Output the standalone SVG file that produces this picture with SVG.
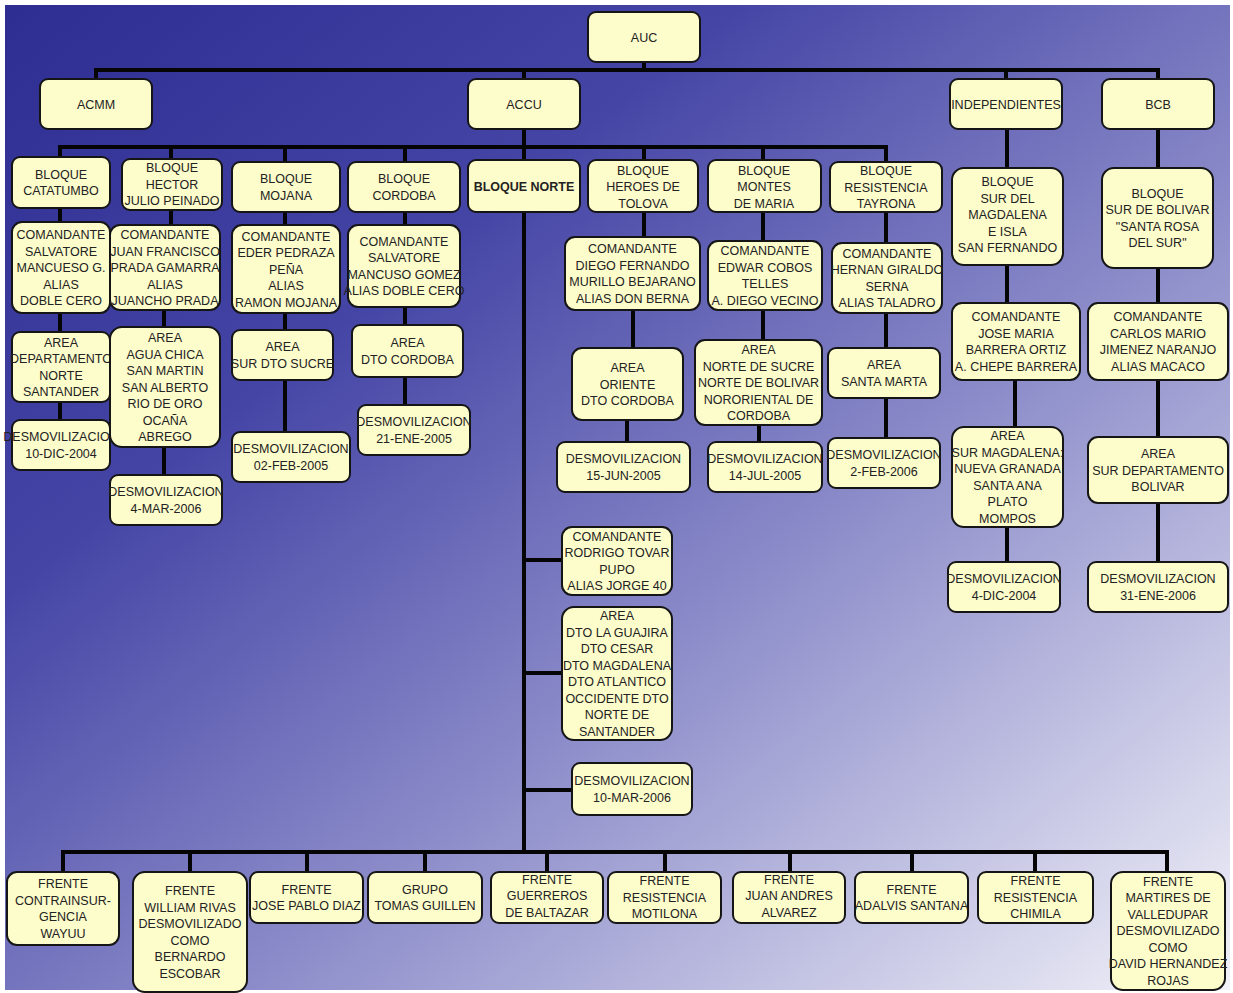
<svg xmlns="http://www.w3.org/2000/svg" width="1233" height="993" viewBox="0 0 1233 993">
<defs>
<linearGradient id="bg" x1="0" y1="0" x2="1" y2="1">
<stop offset="0" stop-color="#2d2d92"/>
<stop offset="0.3" stop-color="#4545a6"/>
<stop offset="0.6" stop-color="#8c8cca"/>
<stop offset="1" stop-color="#f2f2f9"/>
</linearGradient>
<style>
.b{fill:#fdfccb;stroke:#151515;stroke-width:2}
.t{font-family:"Liberation Sans",Arial,sans-serif;font-size:12.5px;fill:#222222;text-anchor:middle}
.bold{font-weight:bold}
.c{fill:none;stroke:#050505;stroke-width:4;stroke-linecap:square}
</style>
</defs>
<rect x="0" y="0" width="1233" height="993" fill="#ffffff"/>
<rect x="5" y="5" width="1225" height="985" fill="url(#bg)"/>
<g id="connectors" class="c">
<path d="M644 62V70"/>
<path d="M96 79V70H1158V79"/>
<path d="M524 70V79"/>
<path d="M1006 70V79"/>
<path d="M524 129V852"/>
<path d="M60 157V147H886V162"/>
<path d="M60 147V420"/>
<path d="M171 147V225"/>
<path d="M164 310V475"/>
<path d="M285 147V432"/>
<path d="M405 147V405"/>
<path d="M644 147V237"/>
<path d="M633 310V348"/>
<path d="M627 420V442"/>
<path d="M763 147V340"/>
<path d="M759 425V442"/>
<path d="M886 147V438"/>
<path d="M1007 129V303"/>
<path d="M1015 380V427"/>
<path d="M1007 527V562"/>
<path d="M1158 129V562"/>
<path d="M524 560H562"/>
<path d="M524 673H562"/>
<path d="M524 790H572"/>
<path d="M63 872V852H1167V872"/>
<path d="M190 852V872"/>
<path d="M307 852V872"/>
<path d="M425 852V872"/>
<path d="M547 852V872"/>
<path d="M665 852V872"/>
<path d="M790 852V872"/>
<path d="M912 852V872"/>
<path d="M1035 852V872"/>
</g>
<g id="auc"><rect class="b" x="588" y="12" width="112" height="50" rx="8"/><text class="t" x="644" y="41.5">AUC</text></g>
<g id="acmm"><rect class="b" x="40" y="79" width="112" height="50" rx="8"/><text class="t" x="96" y="108.5">ACMM</text></g>
<g id="accu"><rect class="b" x="468" y="79" width="112" height="50" rx="8"/><text class="t" x="524" y="108.5">ACCU</text></g>
<g id="independientes"><rect class="b" x="950" y="79" width="112" height="50" rx="8"/><text class="t" x="1006" y="108.5">INDEPENDIENTES</text></g>
<g id="bcb"><rect class="b" x="1102" y="79" width="112" height="50" rx="8"/><text class="t" x="1158" y="108.5">BCB</text></g>

<g id="bloque-catatumbo"><rect class="b" x="12" y="157" width="98" height="51" rx="8"/><text class="t" x="61"><tspan x="61" y="178.75">BLOQUE</tspan><tspan x="61" y="195.25">CATATUMBO</tspan></text></g>
<g id="bloque-hector"><rect class="b" x="122" y="159" width="100" height="51" rx="8"/><text class="t"><tspan x="172" y="172">BLOQUE</tspan><tspan x="172" y="188.5">HECTOR</tspan><tspan x="172" y="205">JULIO PEINADO</tspan></text></g>
<g id="bloque-mojana"><rect class="b" x="232" y="162" width="108" height="50" rx="8"/><text class="t"><tspan x="286" y="183.25">BLOQUE</tspan><tspan x="286" y="199.75">MOJANA</tspan></text></g>
<g id="bloque-cordoba"><rect class="b" x="348" y="162" width="112" height="50" rx="8"/><text class="t"><tspan x="404" y="183.25">BLOQUE</tspan><tspan x="404" y="199.75">CORDOBA</tspan></text></g>
<g id="bloque-norte"><rect class="b" x="468" y="160" width="112" height="52" rx="8"/><text class="t bold" x="524" y="190.5">BLOQUE NORTE</text></g>
<g id="bloque-tolova"><rect class="b" x="588" y="160" width="110" height="52" rx="8"/><text class="t"><tspan x="643" y="174.5">BLOQUE</tspan><tspan x="643" y="191">HEROES DE</tspan><tspan x="643" y="207.5">TOLOVA</tspan></text></g>
<g id="bloque-montes"><rect class="b" x="708" y="160" width="113" height="52" rx="8"/><text class="t"><tspan x="764" y="174.5">BLOQUE</tspan><tspan x="764" y="191">MONTES</tspan><tspan x="764" y="207.5">DE MARIA</tspan></text></g>
<g id="bloque-tayrona"><rect class="b" x="830" y="162" width="112" height="50" rx="8"/><text class="t"><tspan x="886" y="175">BLOQUE</tspan><tspan x="886" y="191.5">RESISTENCIA</tspan><tspan x="886" y="208">TAYRONA</tspan></text></g>

<g id="com-salvatore"><rect class="b" x="12" y="222" width="98" height="91" rx="10"/><text class="t"><tspan x="61" y="239">COMANDANTE</tspan><tspan x="61" y="255.5">SALVATORE</tspan><tspan x="61" y="272">MANCUESO G.</tspan><tspan x="61" y="288.5">ALIAS</tspan><tspan x="61" y="305">DOBLE CERO</tspan></text></g>
<g id="area-norte-santander"><rect class="b" x="12" y="332" width="98" height="70" rx="8"/><text class="t"><tspan x="61" y="346.75">AREA</tspan><tspan x="61" y="363.25">DEPARTAMENTO</tspan><tspan x="61" y="379.75">NORTE</tspan><tspan x="61" y="396.25">SANTANDER</tspan></text></g>
<g id="desm-10dic"><rect class="b" x="12" y="420" width="98" height="50" rx="8"/><text class="t"><tspan x="61" y="441.25">DESMOVILIZACION</tspan><tspan x="61" y="457.75">10-DIC-2004</tspan></text></g>

<g id="com-juan"><rect class="b" x="110" y="225" width="110" height="85" rx="10"/><text class="t"><tspan x="165" y="239">COMANDANTE</tspan><tspan x="165" y="255.5">JUAN FRANCISCO</tspan><tspan x="165" y="272">PRADA GAMARRA</tspan><tspan x="165" y="288.5">ALIAS</tspan><tspan x="165" y="305">JUANCHO PRADA</tspan></text></g>
<g id="area-agua-chica"><rect class="b" x="110" y="327" width="110" height="120" rx="12"/><text class="t"><tspan x="165" y="342">AREA</tspan><tspan x="165" y="358.5">AGUA CHICA</tspan><tspan x="165" y="375">SAN MARTIN</tspan><tspan x="165" y="391.5">SAN ALBERTO</tspan><tspan x="165" y="408">RIO DE ORO</tspan><tspan x="165" y="424.5">OCAÑA</tspan><tspan x="165" y="441">ABREGO</tspan></text></g>
<g id="desm-4mar"><rect class="b" x="110" y="475" width="112" height="50" rx="8"/><text class="t"><tspan x="166" y="496.25">DESMOVILIZACION</tspan><tspan x="166" y="512.75">4-MAR-2006</tspan></text></g>

<g id="com-eder"><rect class="b" x="232" y="225" width="108" height="88" rx="10"/><text class="t"><tspan x="286" y="240.5">COMANDANTE</tspan><tspan x="286" y="257">EDER PEDRAZA</tspan><tspan x="286" y="273.5">PEÑA</tspan><tspan x="286" y="290">ALIAS</tspan><tspan x="286" y="306.5">RAMON MOJANA</tspan></text></g>
<g id="area-sur-sucre"><rect class="b" x="232" y="330" width="101" height="50" rx="8"/><text class="t"><tspan x="282.5" y="351.25">AREA</tspan><tspan x="282.5" y="367.75">SUR DTO SUCRE</tspan></text></g>
<g id="desm-02feb"><rect class="b" x="232" y="432" width="118" height="50" rx="8"/><text class="t"><tspan x="291" y="453.25">DESMOVILIZACION</tspan><tspan x="291" y="469.75">02-FEB-2005</tspan></text></g>

<g id="com-mancuso"><rect class="b" x="348" y="225" width="112" height="82" rx="10"/><text class="t"><tspan x="404" y="245.75">COMANDANTE</tspan><tspan x="404" y="262.25">SALVATORE</tspan><tspan x="404" y="278.75">MANCUSO GOMEZ</tspan><tspan x="404" y="295.25">ALIAS DOBLE CERO</tspan></text></g>
<g id="area-dto-cordoba"><rect class="b" x="352" y="325" width="111" height="52" rx="8"/><text class="t"><tspan x="407.5" y="347.25">AREA</tspan><tspan x="407.5" y="363.75">DTO CORDOBA</tspan></text></g>
<g id="desm-21ene"><rect class="b" x="358" y="405" width="112" height="50" rx="8"/><text class="t"><tspan x="414" y="426.25">DESMOVILIZACION</tspan><tspan x="414" y="442.75">21-ENE-2005</tspan></text></g>

<g id="com-rodrigo"><rect class="b" x="562" y="527" width="110" height="68" rx="10"/><text class="t"><tspan x="617" y="540.75">COMANDANTE</tspan><tspan x="617" y="557.25">RODRIGO TOVAR</tspan><tspan x="617" y="573.75">PUPO</tspan><tspan x="617" y="590.25">ALIAS JORGE 40</tspan></text></g>
<g id="area-guajira"><rect class="b" x="562" y="607" width="110" height="133" rx="12"/><text class="t"><tspan x="617" y="620.25">AREA</tspan><tspan x="617" y="636.75">DTO LA GUAJIRA</tspan><tspan x="617" y="653.25">DTO CESAR</tspan><tspan x="617" y="669.75">DTO MAGDALENA</tspan><tspan x="617" y="686.25">DTO ATLANTICO</tspan><tspan x="617" y="702.75">OCCIDENTE DTO</tspan><tspan x="617" y="719.25">NORTE DE</tspan><tspan x="617" y="735.75">SANTANDER</tspan></text></g>
<g id="desm-10mar"><rect class="b" x="572" y="763" width="120" height="52" rx="8"/><text class="t"><tspan x="632" y="785.25">DESMOVILIZACION</tspan><tspan x="632" y="801.75">10-MAR-2006</tspan></text></g>

<g id="com-berna"><rect class="b" x="565" y="237" width="135" height="73" rx="10"/><text class="t"><tspan x="632.5" y="253.25">COMANDANTE</tspan><tspan x="632.5" y="269.75">DIEGO FERNANDO</tspan><tspan x="632.5" y="286.25">MURILLO BEJARANO</tspan><tspan x="632.5" y="302.75">ALIAS DON BERNA</tspan></text></g>
<g id="area-oriente"><rect class="b" x="572" y="348" width="111" height="72" rx="10"/><text class="t"><tspan x="627.5" y="372">AREA</tspan><tspan x="627.5" y="388.5">ORIENTE</tspan><tspan x="627.5" y="405">DTO CORDOBA</tspan></text></g>
<g id="desm-15jun"><rect class="b" x="557" y="442" width="133" height="50" rx="8"/><text class="t"><tspan x="623.5" y="463.25">DESMOVILIZACION</tspan><tspan x="623.5" y="479.75">15-JUN-2005</tspan></text></g>

<g id="com-edwar"><rect class="b" x="708" y="241" width="114" height="69" rx="10"/><text class="t"><tspan x="765" y="255.25">COMANDANTE</tspan><tspan x="765" y="271.75">EDWAR COBOS</tspan><tspan x="765" y="288.25">TELLES</tspan><tspan x="765" y="304.75">A.  DIEGO VECINO</tspan></text></g>
<g id="area-norte-sucre"><rect class="b" x="695" y="340" width="127" height="85" rx="10"/><text class="t"><tspan x="758.5" y="354">AREA</tspan><tspan x="758.5" y="370.5">NORTE DE SUCRE</tspan><tspan x="758.5" y="387">NORTE DE BOLIVAR</tspan><tspan x="758.5" y="403.5">NORORIENTAL DE</tspan><tspan x="758.5" y="420">CORDOBA</tspan></text></g>
<g id="desm-14jul"><rect class="b" x="708" y="442" width="114" height="50" rx="8"/><text class="t"><tspan x="765" y="463.25">DESMOVILIZACION</tspan><tspan x="765" y="479.75">14-JUL-2005</tspan></text></g>

<g id="com-hernan"><rect class="b" x="832" y="243" width="110" height="70" rx="10"/><text class="t"><tspan x="887" y="257.75">COMANDANTE</tspan><tspan x="887" y="274.25">HERNAN GIRALDO</tspan><tspan x="887" y="290.75">SERNA</tspan><tspan x="887" y="307.25">ALIAS  TALADRO</tspan></text></g>
<g id="area-santa-marta"><rect class="b" x="828" y="348" width="112" height="50" rx="8"/><text class="t"><tspan x="884" y="369.25">AREA</tspan><tspan x="884" y="385.75">SANTA MARTA</tspan></text></g>
<g id="desm-2feb"><rect class="b" x="828" y="438" width="112" height="50" rx="8"/><text class="t"><tspan x="884" y="459.25">DESMOVILIZACION</tspan><tspan x="884" y="475.75">2-FEB-2006</tspan></text></g>

<g id="bloque-sur-magdalena"><rect class="b" x="952" y="168" width="111" height="97" rx="12"/><text class="t"><tspan x="1007.5" y="186">BLOQUE</tspan><tspan x="1007.5" y="202.5">SUR DEL</tspan><tspan x="1007.5" y="219">MAGDALENA</tspan><tspan x="1007.5" y="235.5">E ISLA</tspan><tspan x="1007.5" y="252">SAN FERNANDO</tspan></text></g>
<g id="com-jose"><rect class="b" x="952" y="303" width="128" height="77" rx="10"/><text class="t"><tspan x="1016" y="321.25">COMANDANTE</tspan><tspan x="1016" y="337.75">JOSE MARIA</tspan><tspan x="1016" y="354.25">BARRERA ORTIZ</tspan><tspan x="1016" y="370.75">A. CHEPE BARRERA</tspan></text></g>
<g id="area-sur-magdalena"><rect class="b" x="952" y="427" width="111" height="100" rx="12"/><text class="t"><tspan x="1007.5" y="440.25">AREA</tspan><tspan x="1007.5" y="456.75">SUR MAGDALENA:</tspan><tspan x="1007.5" y="473.25">NUEVA GRANADA</tspan><tspan x="1007.5" y="489.75">SANTA ANA</tspan><tspan x="1007.5" y="506.25">PLATO</tspan><tspan x="1007.5" y="522.75">MOMPOS</tspan></text></g>
<g id="desm-4dic"><rect class="b" x="948" y="562" width="112" height="50" rx="8"/><text class="t"><tspan x="1004" y="583.25">DESMOVILIZACION</tspan><tspan x="1004" y="599.75">4-DIC-2004</tspan></text></g>

<g id="bloque-sur-bolivar"><rect class="b" x="1102" y="168" width="111" height="100" rx="12"/><text class="t"><tspan x="1157.5" y="197.75">BLOQUE</tspan><tspan x="1157.5" y="214.25">SUR DE BOLIVAR</tspan><tspan x="1157.5" y="230.75">"SANTA ROSA</tspan><tspan x="1157.5" y="247.25">DEL SUR"</tspan></text></g>
<g id="com-carlos"><rect class="b" x="1088" y="303" width="140" height="77" rx="10"/><text class="t"><tspan x="1158" y="321.25">COMANDANTE</tspan><tspan x="1158" y="337.75">CARLOS MARIO</tspan><tspan x="1158" y="354.25">JIMENEZ NARANJO</tspan><tspan x="1158" y="370.75">ALIAS MACACO</tspan></text></g>
<g id="area-sur-departamento"><rect class="b" x="1088" y="437" width="140" height="66" rx="10"/><text class="t"><tspan x="1158" y="458">AREA</tspan><tspan x="1158" y="474.5">SUR DEPARTAMENTO</tspan><tspan x="1158" y="491">BOLIVAR</tspan></text></g>
<g id="desm-31ene"><rect class="b" x="1088" y="562" width="140" height="50" rx="8"/><text class="t"><tspan x="1158" y="583.25">DESMOVILIZACION</tspan><tspan x="1158" y="599.75">31-ENE-2006</tspan></text></g>

<g id="frente-wayuu"><rect class="b" x="7" y="872" width="112" height="73" rx="10"/><text class="t"><tspan x="63" y="888.25">FRENTE</tspan><tspan x="63" y="904.75">CONTRAINSUR-</tspan><tspan x="63" y="921.25">GENCIA</tspan><tspan x="63" y="937.75">WAYUU</tspan></text></g>
<g id="frente-william"><rect class="b" x="133" y="872" width="114" height="120" rx="12"/><text class="t"><tspan x="190" y="895.25">FRENTE</tspan><tspan x="190" y="911.75">WILLIAM RIVAS</tspan><tspan x="190" y="928.25">DESMOVILIZADO</tspan><tspan x="190" y="944.75">COMO</tspan><tspan x="190" y="961.25">BERNARDO</tspan><tspan x="190" y="977.75">ESCOBAR</tspan></text></g>
<g id="frente-jose-pablo"><rect class="b" x="250" y="872" width="113" height="51" rx="8"/><text class="t"><tspan x="306.5" y="893.75">FRENTE</tspan><tspan x="306.5" y="910.25">JOSE PABLO DIAZ</tspan></text></g>
<g id="grupo-tomas"><rect class="b" x="368" y="872" width="114" height="51" rx="8"/><text class="t"><tspan x="425" y="893.75">GRUPO</tspan><tspan x="425" y="910.25">TOMAS GUILLEN</tspan></text></g>
<g id="frente-guerreros"><rect class="b" x="491" y="872" width="112" height="51" rx="8"/><text class="t"><tspan x="547" y="883.5">FRENTE</tspan><tspan x="547" y="900">GUERREROS</tspan><tspan x="547" y="916.5">DE  BALTAZAR</tspan></text></g>
<g id="frente-motilona"><rect class="b" x="608" y="872" width="113" height="51" rx="8"/><text class="t"><tspan x="664.5" y="885">FRENTE</tspan><tspan x="664.5" y="901.5">RESISTENCIA</tspan><tspan x="664.5" y="918">MOTILONA</tspan></text></g>
<g id="frente-juan-andres"><rect class="b" x="733" y="872" width="112" height="51" rx="8"/><text class="t"><tspan x="789" y="883.5">FRENTE</tspan><tspan x="789" y="900">JUAN ANDRES</tspan><tspan x="789" y="916.5">ALVAREZ</tspan></text></g>
<g id="frente-adalvis"><rect class="b" x="855" y="872" width="113" height="51" rx="8"/><text class="t"><tspan x="911.5" y="893.75">FRENTE</tspan><tspan x="911.5" y="910.25">ADALVIS SANTANA</tspan></text></g>
<g id="frente-chimila"><rect class="b" x="978" y="872" width="115" height="51" rx="8"/><text class="t"><tspan x="1035.5" y="885">FRENTE</tspan><tspan x="1035.5" y="901.5">RESISTENCIA</tspan><tspan x="1035.5" y="918">CHIMILA</tspan></text></g>
<g id="frente-martires"><rect class="b" x="1111" y="872" width="114" height="118" rx="12"/><text class="t"><tspan x="1168" y="885.5">FRENTE</tspan><tspan x="1168" y="902">MARTIRES DE</tspan><tspan x="1168" y="918.5">VALLEDUPAR</tspan><tspan x="1168" y="935">DESMOVILIZADO</tspan><tspan x="1168" y="951.5">COMO</tspan><tspan x="1168" y="968">DAVID HERNANDEZ</tspan><tspan x="1168" y="984.5">ROJAS</tspan></text></g>
</svg>
